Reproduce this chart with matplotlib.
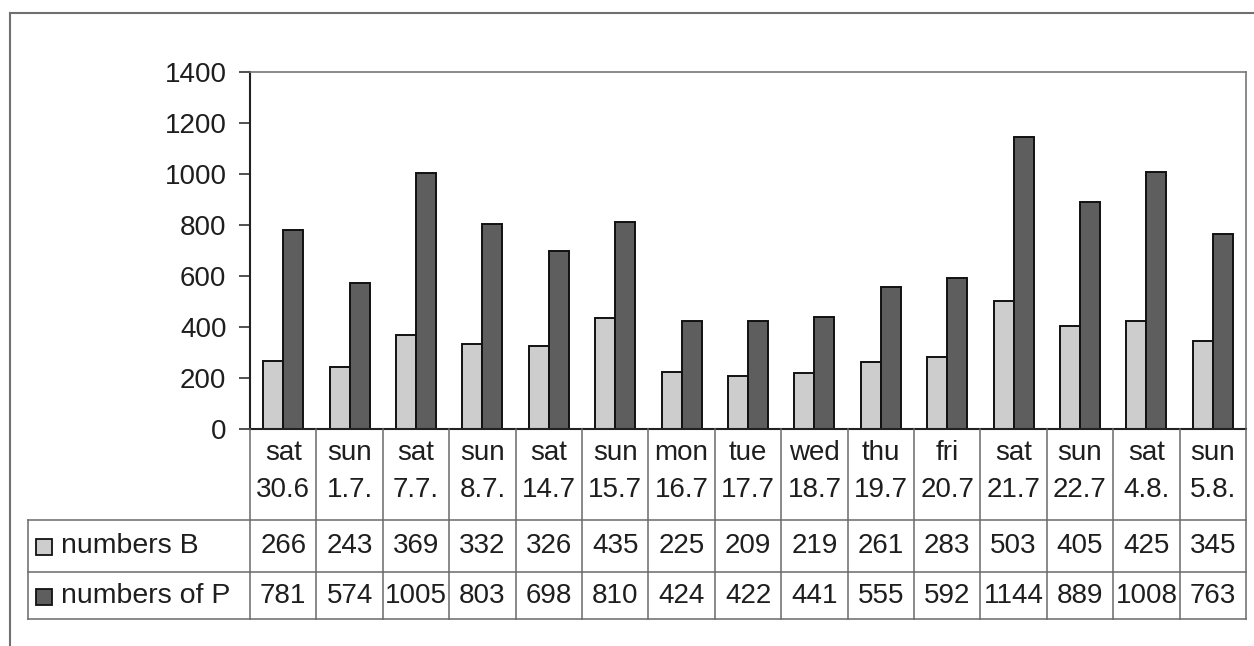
import matplotlib
matplotlib.use("Agg")
import matplotlib.pyplot as plt
import matplotlib.transforms as mtransforms
from matplotlib.patches import Rectangle
from matplotlib.lines import Line2D
import numpy as np

days = ["sat", "sun", "sat", "sun", "sat", "sun", "mon", "tue", "wed",
        "thu", "fri", "sat", "sun", "sat", "sun"]
dates = ["30.6", "1.7.", "7.7.", "8.7.", "14.7", "15.7", "16.7", "17.7",
         "18.7", "19.7", "20.7", "21.7", "22.7", "4.8.", "5.8."]
numbers_b = [266, 243, 369, 332, 326, 435, 225, 209, 219, 261, 283, 503, 405, 425, 345]
numbers_p = [781, 574, 1005, 803, 698, 810, 424, 422, 441, 555, 592, 1144, 889, 1008, 763]
series_names = ["numbers B", "numbers of P"]
y_ticks = [0, 200, 400, 600, 800, 1000, 1200, 1400]

light = "#cdcdcd"
dark = "#5e5e5e"
txt = "#1e1e1e"
grid_c = "#6a6a6a"

plt.rcParams["font.family"] = ["Liberation Sans", "DejaVu Sans"]

W, H = 1254, 646
fig = plt.figure(figsize=(W / 100, H / 100), dpi=100)
fig.patch.set_facecolor("white")


def fy(p):
    return 1 - p / H


def fx(p):
    return p / W


# plot area (pixel box: x 250..1246, y 72..429)
ax = fig.add_axes([fx(250), fy(429), fx(1246) - fx(250), fy(72) - fy(429)])
x = np.arange(len(days))
bw = 0.3
ax.bar(x - bw / 2, numbers_b, bw, color=light, edgecolor="#111111", linewidth=1.4)
ax.bar(x + bw / 2, numbers_p, bw, color=dark, edgecolor="#111111", linewidth=1.4)
ax.set_xlim(-0.5, len(days) - 0.5)
ax.set_ylim(0, 1400)
ax.set_yticks(y_ticks)
ax.set_yticklabels([str(t) for t in y_ticks], fontsize=20, color=txt)
ax.set_xticks([])
ax.tick_params(axis="y", direction="out", length=8, width=1.2, color="#333333", pad=9)
for side in ["top", "right"]:
    ax.spines[side].set_color("#777777")
    ax.spines[side].set_linewidth(1.2)
ax.spines["left"].set_color("#222222")
ax.spines["left"].set_linewidth(1.5)
ax.spines["bottom"].set_color("#222222")
ax.spines["bottom"].set_linewidth(1.5)

# data table below the plot
tr = mtransforms.blended_transform_factory(ax.transData, fig.transFigure)
y_top, y_hdr, y_mid, y_bot = fy(429), fy(520), fy(571.5), fy(619)
n = len(days)
for i in range(n + 1):
    xb = i - 0.5
    fig.add_artist(Line2D([xb, xb], [y_top, y_bot], transform=tr,
                          color=grid_c, linewidth=1.1))
for yy in [y_hdr, y_mid, y_bot]:
    fig.add_artist(Line2D([fx(28), fx(1246)], [yy, yy], transform=fig.transFigure,
                          color=grid_c, linewidth=1.1))
fig.add_artist(Line2D([fx(28), fx(28)], [y_hdr, y_bot], transform=fig.transFigure,
                      color=grid_c, linewidth=1.1))

for i in range(n):
    fig.text(i, fy(453), days[i], transform=tr, ha="center", va="center",
             fontsize=20, color=txt)
    fig.text(i, fy(490), dates[i], transform=tr, ha="center", va="center",
             fontsize=20, color=txt)
    fig.text(i, fy(546), str(numbers_b[i]), transform=tr, ha="center", va="center",
             fontsize=20, color=txt)
    fig.text(i, fy(596), str(numbers_p[i]), transform=tr, ha="center", va="center",
             fontsize=20, color=txt)

# legend keys inside the table
for name, col, yc in [(series_names[0], light, 547), (series_names[1], dark, 597)]:
    fig.add_artist(Rectangle((fx(36), fy(yc + 8)), fx(16), fy(yc - 8) - fy(yc + 8),
                             transform=fig.transFigure, facecolor=col,
                             edgecolor="#111111", linewidth=1.3))
    fig.text(fx(61), fy(yc - 1), name, ha="left", va="center", fontsize=20.5, color=txt)

# outer chart border
fig.add_artist(Line2D([fx(10), fx(10)], [fy(13), 0], transform=fig.transFigure,
                      color="#707070", linewidth=1.5))
fig.add_artist(Line2D([fx(10), 1], [fy(13), fy(13)], transform=fig.transFigure,
                      color="#707070", linewidth=1.5))

fig.savefig("out.png", dpi=100)
